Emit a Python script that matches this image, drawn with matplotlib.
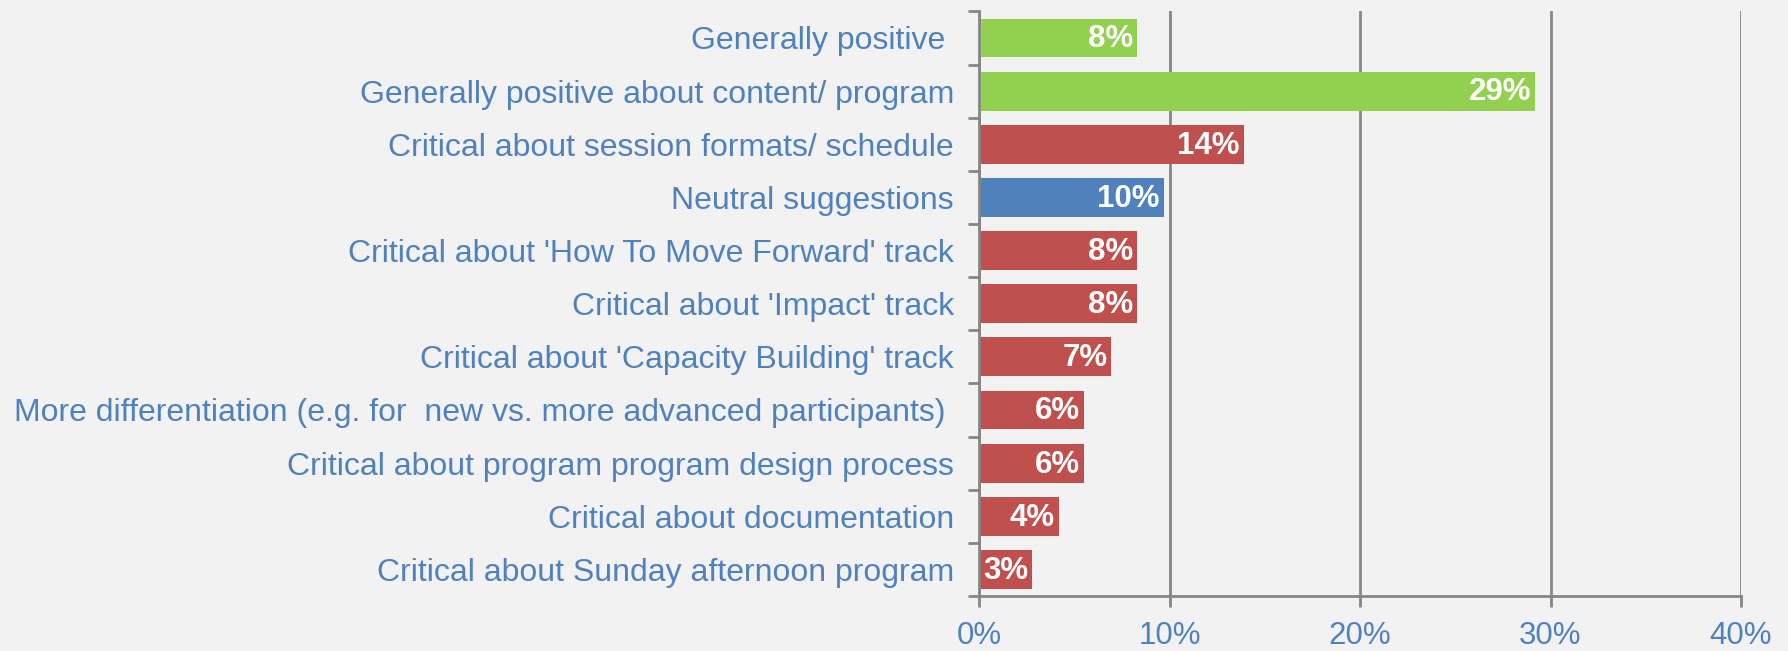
import numpy as np
import matplotlib
matplotlib.use("Agg")
import matplotlib.pyplot as plt

# Data (top to bottom as in the chart)
categories = [
    "Generally positive ",
    "Generally positive about content/ program",
    "Critical about session formats/ schedule",
    "Neutral suggestions",
    "Critical about 'How To Move Forward' track",
    "Critical about 'Impact' track",
    "Critical about 'Capacity Building' track",
    "More differentiation (e.g. for  new vs. more advanced participants) ",
    "Critical about program program design process",
    "Critical about documentation",
    "Critical about Sunday afternoon program",
]
values = [8.3, 29.2, 13.9, 9.7, 8.3, 8.3, 6.95, 5.5, 5.5, 4.2, 2.8]
labels = ["8%", "29%", "14%", "10%", "8%", "8%", "7%", "6%", "6%", "4%", "3%"]
kinds = ["pos", "pos", "crit", "neu", "crit", "crit", "crit", "crit", "crit", "crit", "crit"]
xticks = [0, 10, 20, 30, 40]

colors = {"pos": "#92D050", "crit": "#C0504D", "neu": "#4F81BD"}
bg = "#F2F2F2"
text_blue = "#4F81BD"
gray = "#868686"

plt.rcParams['font.family'] = ['Liberation Sans', 'DejaVu Sans']

fig = plt.figure(figsize=(17.88, 6.51), dpi=100, facecolor=bg)
ax = fig.add_axes([0.5476, 0.0845, 0.4261, 0.898])
ax.set_facecolor(bg)

y = np.arange(len(categories))
bars = ax.barh(y, values, height=0.73, color=[colors[k] for k in kinds], zorder=3)
ax.set_ylim(len(categories) - 0.5, -0.5)
ax.set_xlim(0, 40)

for b, lab in zip(bars, labels):
    ax.annotate(lab, (b.get_width(), b.get_y() + b.get_height() / 2),
                xytext=(-3, -1), textcoords="offset points",
                ha="right", va="center", color="white", fontsize=22.5,
                fontweight="bold", zorder=4)

ax.set_yticks(y)
ax.set_yticklabels(categories, fontsize=23, color=text_blue)
ax.set_yticks(np.arange(len(categories) + 1) - 0.5, minor=True)
ax.tick_params(axis="y", which="major", length=0, pad=18)
ax.tick_params(axis="y", which="minor", length=8, width=2, color=gray)

ax.set_xticks(xticks)
ax.set_xticklabels([f"{t}%" for t in xticks], fontsize=22.5, color=text_blue)
ax.tick_params(axis="x", length=8, width=2, color=gray, pad=10)

ax.grid(axis="x", color=gray, linewidth=2, zorder=0)
for s in ["top", "right"]:
    ax.spines[s].set_visible(False)
for s in ["left", "bottom"]:
    ax.spines[s].set_color(gray)
    ax.spines[s].set_linewidth(2)
    ax.spines[s].set_zorder(5)

fig.savefig("out.png", dpi=100, facecolor=bg)
